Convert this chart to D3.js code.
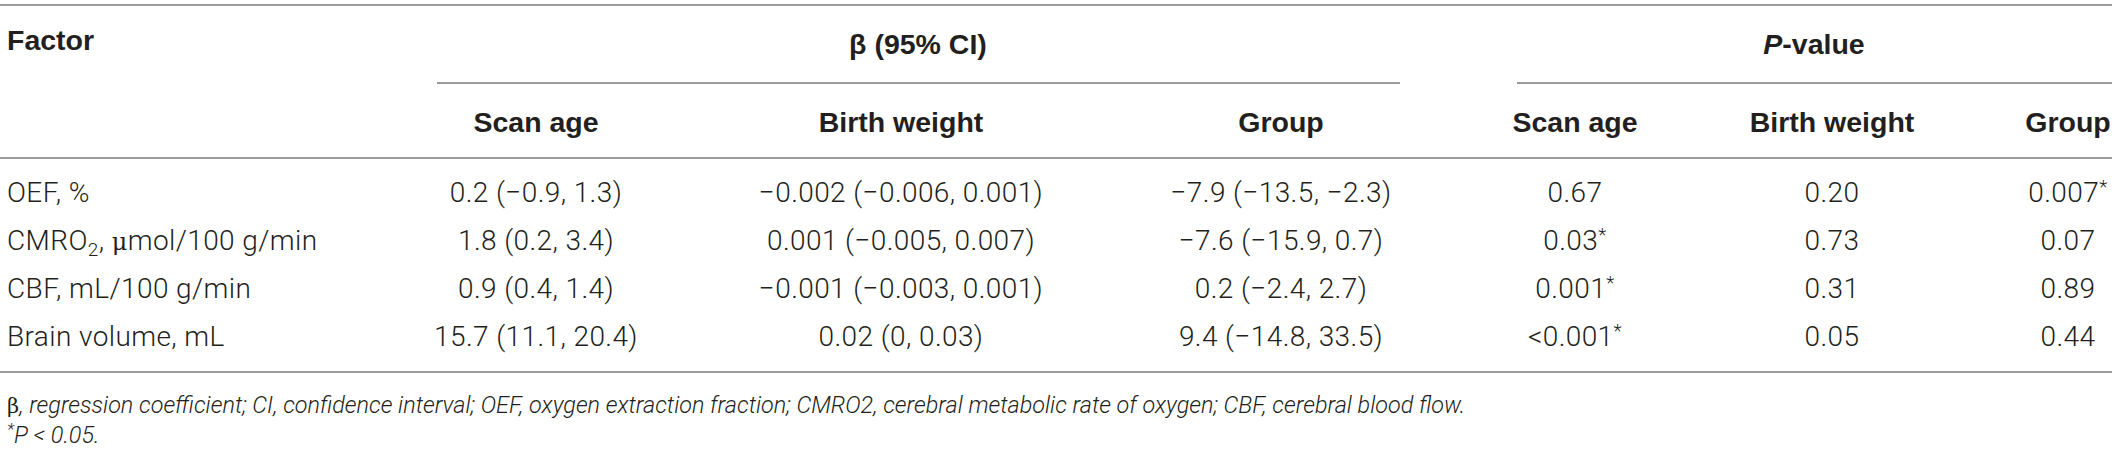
<!DOCTYPE html>
<html>
<head>
<meta charset="utf-8">
<script src="https://cdn.jsdelivr.net/npm/d3@7"></script>
<style>
  body { margin: 0; background: #fff; }
  svg text { fill: #231f20; }
</style>
</head>
<body>
<div id="svg_table"></div>
<script>
// table contents
var factors = ["OEF, %", "CMRO2, μmol/100 g/min", "CBF, mL/100 g/min", "Brain volume, mL"];
var columns = ["Scan age", "Birth weight", "Group", "Scan age", "Birth weight", "Group"];
var groups = ["β (95% CI)", "P-value"];

var betaScanAge = ["0.2 (−0.9, 1.3)", "1.8 (0.2, 3.4)", "0.9 (0.4, 1.4)", "15.7 (11.1, 20.4)"];
var betaBirthWeight = ["−0.002 (−0.006, 0.001)", "0.001 (−0.005, 0.007)", "−0.001 (−0.003, 0.001)", "0.02 (0, 0.03)"];
var betaGroup = ["−7.9 (−13.5, −2.3)", "−7.6 (−15.9, 0.7)", "0.2 (−2.4, 2.7)", "9.4 (−14.8, 33.5)"];
var pScanAge = ["0.67", "0.03*", "0.001*", "<0.001*"];
var pBirthWeight = ["0.20", "0.73", "0.31", "0.05"];
var pGroup = ["0.007*", "0.07", "0.89", "0.44"];

var footnote1 = "regression coefficient; CI, confidence interval; OEF, oxygen extraction fraction; CMRO2, cerebral metabolic rate of oxygen; CBF, cerebral blood flow.";

function draw_table(width, height) {
    var svg = d3.select("#svg_table").append("svg").attr("width", width).attr("height", height);

    var bodyFont = "Roboto, 'Liberation Sans', sans-serif";
    var headFont = "'Liberation Sans', Arial, sans-serif";

    // column centres
    var xCol = d3.scaleOrdinal()
        .domain(d3.range(6))
        .range([536, 901, 1281, 1575, 1832, 2068]);
    var xGroup = d3.scaleOrdinal().domain(groups).range([918, 1814]);
    var groupSpan = { "β (95% CI)": [437, 1400], "P-value": [1517, 2112] };

    // rows
    var yRow = d3.scaleBand().domain(factors).range([169, 361]);

    var rules = [5, 158, 372];
    svg.append("g").selectAll("line")
        .data(rules)
        .enter()
        .append("line")
        .attr("x1", 0).attr("x2", 2112)
        .attr("y1", d => d).attr("y2", d => d)
        .attr("stroke", "#7a7a7a")
        .attr("stroke-width", 1.5);

    svg.append("g").selectAll("line")
        .data(groups)
        .enter()
        .append("line")
        .attr("x1", d => groupSpan[d][0]).attr("x2", d => groupSpan[d][1])
        .attr("y1", 83).attr("y2", 83)
        .attr("stroke", "#7a7a7a")
        .attr("stroke-width", 1.5);

    // header
    svg.append("text")
        .attr("x", 7).attr("y", 50)
        .attr("font-family", headFont).attr("font-weight", "bold").attr("font-size", "28.5px")
        .text("Factor");

    svg.append("g").selectAll("text")
        .data(groups)
        .enter()
        .append("text")
        .attr("x", d => xGroup(d)).attr("y", 54)
        .attr("text-anchor", "middle")
        .attr("font-family", headFont).attr("font-weight", "bold").attr("font-size", "28.5px")
        .each(function(d) {
            var t = d3.select(this);
            if (d == "P-value") {
                t.append("tspan").attr("font-style", "italic").text("P");
                t.append("tspan").text("-value");
            } else {
                t.text(d);
            }
        });

    svg.append("g").selectAll("text")
        .data(columns)
        .enter()
        .append("text")
        .attr("x", (d, i) => xCol(i)).attr("y", 132)
        .attr("text-anchor", "middle")
        .attr("font-family", headFont).attr("font-weight", "bold").attr("font-size", "28.5px")
        .text(d => d);

    // factor labels
    svg.append("g").selectAll("text")
        .data(factors)
        .enter()
        .append("text")
        .attr("x", 7).attr("y", d => yRow(d) + yRow.bandwidth() / 2 + 9)
        .attr("font-family", bodyFont).attr("font-weight", 300).attr("font-size", "28px")
        .attr("letter-spacing", "0.4px")
        .each(function(d) {
            var t = d3.select(this);
            if (d.indexOf("CMRO2") == 0) {
                t.append("tspan").text("CMRO");
                t.append("tspan").attr("font-size", "19px").attr("dy", 6).text("2");
                t.append("tspan").attr("dy", -6).text(", ");
                t.append("tspan").attr("font-family", "'DejaVu Serif', serif").attr("font-size", "24px").text("μ");
                t.append("tspan").text("mol/100 g/min");
            } else {
                t.text(d);
            }
        });

    // value cells
    var cells = [betaScanAge, betaBirthWeight, betaGroup, pScanAge, pBirthWeight, pGroup];
    cells.forEach(function(col, ci) {
        svg.append("g").selectAll("text")
            .data(col)
            .enter()
            .append("text")
            .attr("x", xCol(ci))
            .attr("y", (d, i) => yRow(factors[i]) + yRow.bandwidth() / 2 + 9)
            .attr("text-anchor", "middle")
            .attr("font-family", bodyFont).attr("font-weight", 300).attr("font-size", "28px")
            .attr("letter-spacing", "0.4px")
            .each(function(d) {
                var t = d3.select(this);
                if (d.slice(-1) == "*") {
                    t.append("tspan").text(d.slice(0, -1));
                    t.append("tspan").attr("font-size", "19px").attr("dy", -9).text("*");
                } else {
                    t.text(d);
                }
            });
    });

    // footnotes
    var fn = svg.append("text")
        .attr("x", 7).attr("y", 413)
        .attr("font-family", bodyFont).attr("font-weight", 300).attr("font-size", "23.4px");
    fn.append("tspan").attr("font-family", "'DejaVu Serif', serif").attr("font-size", "21px").text("β");
    fn.append("tspan").attr("font-style", "italic").text(", " + footnote1);

    var fn2 = svg.append("text")
        .attr("x", 7).attr("y", 443)
        .attr("font-family", bodyFont).attr("font-weight", 300).attr("font-size", "23.4px")
        .attr("font-style", "italic");
    fn2.append("tspan").attr("font-size", "17px").attr("dy", -8).text("*");
    fn2.append("tspan").attr("dy", 8).text("P < 0.05.");
}

draw_table(2117, 452);
</script>
</body>
</html>
